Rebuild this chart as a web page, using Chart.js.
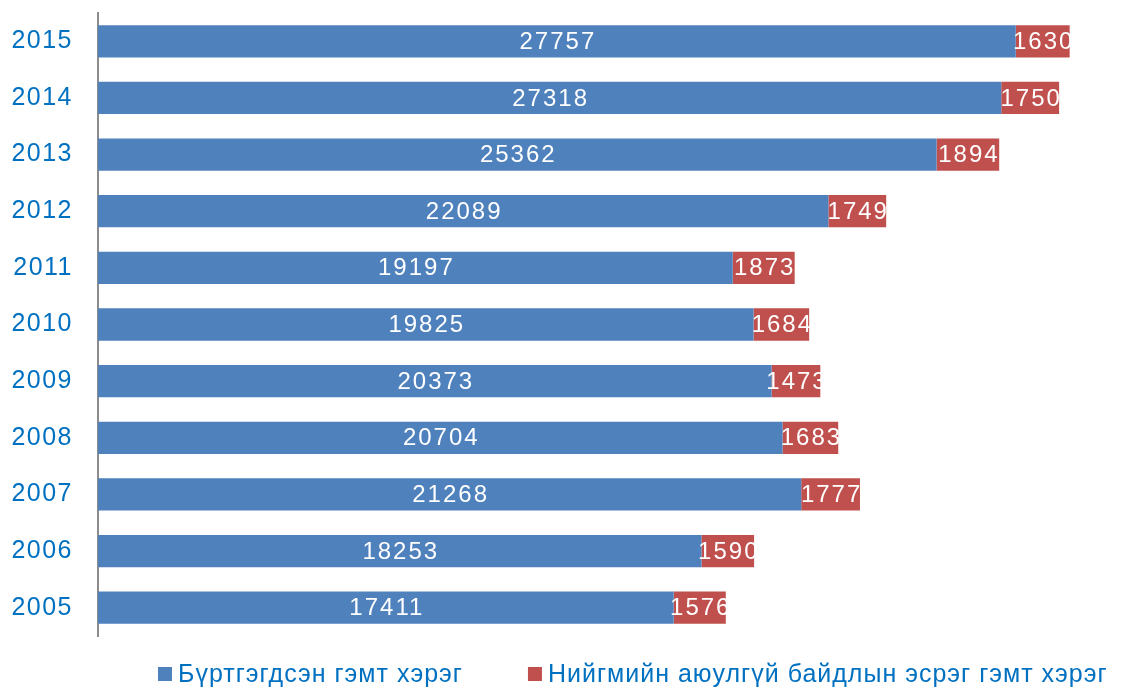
<!DOCTYPE html>
<html>
<head>
<meta charset="utf-8">
<script src="https://cdn.jsdelivr.net/npm/chart.js@4/dist/chart.umd.min.js"></script>
<style>
  html, body { margin: 0; padding: 0; background: #fff; }
  #wrap { width: 1123px; height: 689px; }
</style>
</head>
<body>
<div id="wrap"><canvas id="grafico"></canvas></div>
<script>
// data
var anos = ['2015', '2014', '2013', '2012', '2011', '2010', '2009', '2008', '2007', '2006', '2005'];
var registrados = [27757, 27318, 25362, 22089, 19197, 19825, 20373, 20704, 21268, 18253, 17411];
var seguranca = [1630, 1750, 1894, 1749, 1873, 1684, 1473, 1683, 1777, 1590, 1576];
var nomeSerie1 = 'Бүртгэгдсэн гэмт хэрэг';
var nomeSerie2 = 'Нийгмийн аюулгүй байдлын эсрэг гэмт хэрэг';

var fonte = "'Liberation Sans', Arial, sans-serif";
var espaco = '1.5px';

// stretch letters a little, like the original
const espacamento = {
  id: 'espacamento',
  beforeLayout(chart) { chart.ctx.letterSpacing = espaco; },
  beforeDraw(chart) { chart.ctx.letterSpacing = espaco; }
};

// white numbers centered in each bar piece
const rotulos = {
  id: 'rotulos',
  afterDatasetsDraw(chart) {
    const ctx = chart.ctx;
    ctx.save();
    ctx.letterSpacing = '2px';
    ctx.font = '24px ' + fonte;
    ctx.fillStyle = '#ffffff';
    ctx.textAlign = 'center';
    ctx.textBaseline = 'middle';
    chart.data.datasets.forEach(function (ds, d) {
      chart.getDatasetMeta(d).data.forEach(function (bar, i) {
        const meio = (bar.x + bar.base) / 2;
        ctx.fillText(String(ds.data[i]), meio + 1, bar.y + 1);
      });
    });
    ctx.restore();
  }
};

// legend drawn under the plot, wide gap between the two items
const legenda = {
  id: 'legenda',
  afterDraw(chart) {
    const ctx = chart.ctx;
    const area = chart.chartArea;
    ctx.save();
    ctx.letterSpacing = '1px';
    ctx.font = '25px ' + fonte;
    ctx.textBaseline = 'middle';
    let x = area.left + 60;
    const y = area.bottom + 38;
    chart.data.datasets.forEach(function (ds) {
      ctx.fillStyle = ds.backgroundColor;
      ctx.fillRect(x, y - 7, 14, 14);
      ctx.fillStyle = '#0070C0';
      ctx.fillText(ds.label, x + 20, y + 1);
      x += 20 + ctx.measureText(ds.label).width + 65;
    });
    ctx.restore();
  }
};

var ctx = document.getElementById('grafico').getContext('2d');
var chart = new Chart(ctx, {
  type: 'bar',
  data: {
    labels: anos,
    datasets: [
      { label: nomeSerie1, data: registrados, backgroundColor: '#4F81BD',
        barPercentage: 0.57, categoryPercentage: 1 },
      { label: nomeSerie2, data: seguranca, backgroundColor: '#C0504D',
        barPercentage: 0.57, categoryPercentage: 1 }
    ]
  },
  options: {
    indexAxis: 'y',
    responsive: true,
    maintainAspectRatio: false,
    animation: false,
    layout: { padding: { top: 13, right: 0, left: 0, bottom: 53 } },
    scales: {
      x: {
        stacked: true,
        min: 0,
        max: 31000,
        display: false
      },
      y: {
        stacked: true,
        grid: { display: false },
        border: { display: true, color: '#8c8c8c', width: 2 },
        ticks: { color: '#0070C0', padding: 17, font: { family: fonte, size: 25 } },
        afterFit: function (axis) {
          axis.width = 98;
          axis.paddingTop = 0;
          axis.paddingBottom = 0;
        }
      }
    },
    plugins: {
      tooltip: { enabled: false },
      legend: { display: false }
    }
  },
  plugins: [espacamento, rotulos, legenda]
});
</script>
</body>
</html>
